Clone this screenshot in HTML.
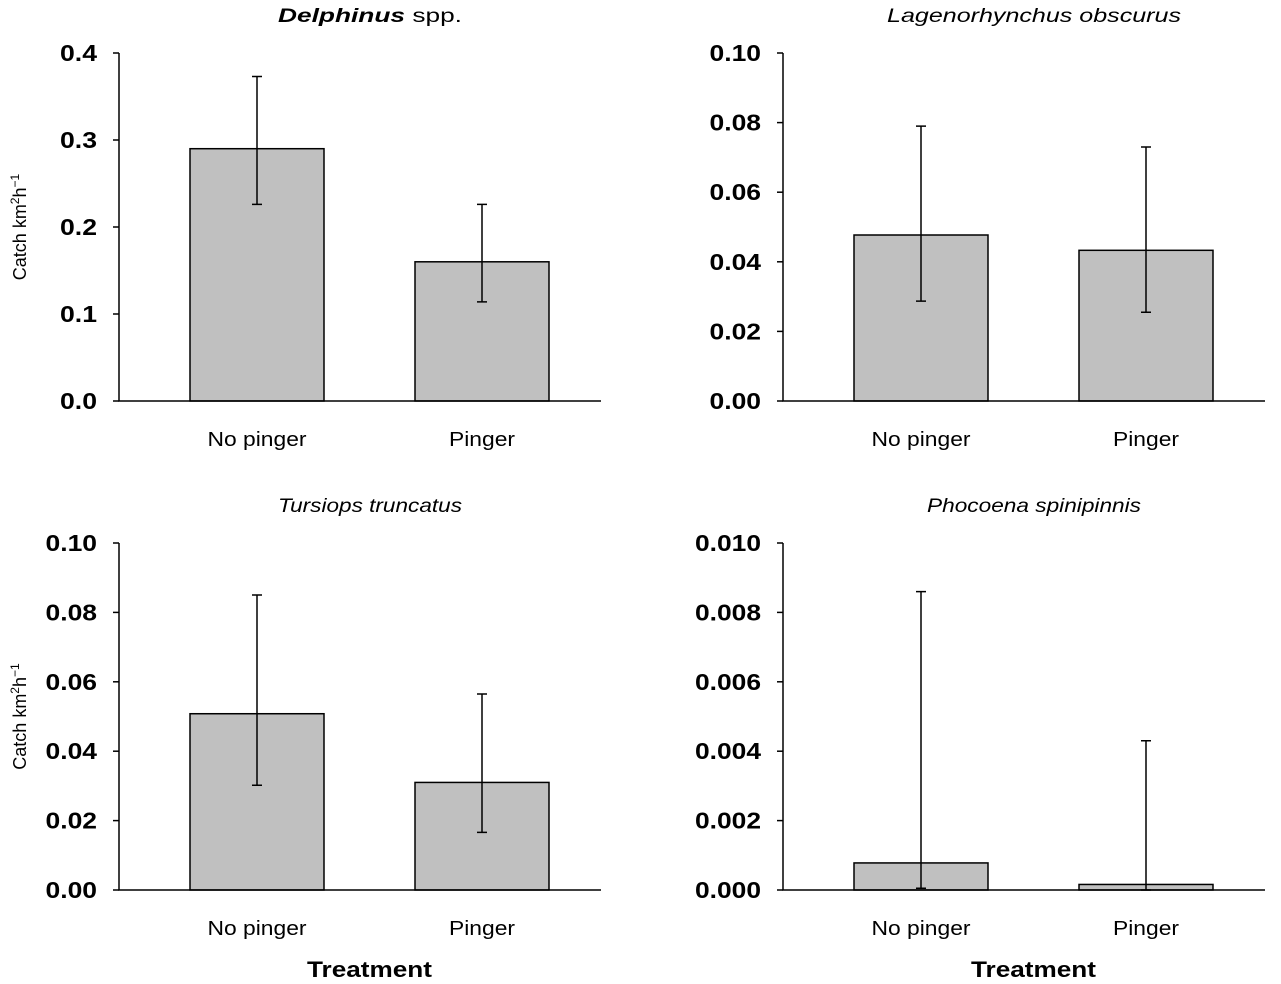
<!DOCTYPE html>
<html><head><meta charset="utf-8"><style>
body{margin:0;background:#fff}
svg text{font-family:"Liberation Sans",Arial,sans-serif;fill:#000}
</style></head><body>
<svg id="c" width="1281" height="979" xmlns="http://www.w3.org/2000/svg"></svg>
<script>
const categories=["No pinger","Pinger"];
const titles=["Delphinus spp.","Lagenorhynchus obscurus","Tursiops truncatus","Phocoena spinipinnis"];
const means=[[0.29,0.16],[0.0477,0.0433],[0.0508,0.031],[0.00078,0.00016]];
const upper=[[0.373,0.226],[0.079,0.073],[0.085,0.0565],[0.0086,0.0043]];
const lower=[[0.226,0.114],[0.0287,0.0255],[0.0302,0.0166],[0.00005,0.0]];
const yMax=[0.4,0.1,0.1,0.01];
const tickLabels=[["0.0","0.1","0.2","0.3","0.4"],["0.00","0.02","0.04","0.06","0.08","0.10"],["0.00","0.02","0.04","0.06","0.08","0.10"],["0.000","0.002","0.004","0.006","0.008","0.010"]];
const titleWidths=[184,294,184,214];
const NS="http://www.w3.org/2000/svg",svg=document.getElementById('c');
function mk(t,a,p){const e=document.createElementNS(NS,t);for(const k in a)e.setAttribute(k,a[k]);(p||svg).appendChild(e);return e;}
const panels=[{x0:119,y0:401,top:53},{x0:783,y0:401,top:53},{x0:119,y0:890,top:543},{x0:783,y0:890,top:543}];
panels.forEach((P,i)=>{
 const g=mk('g',{});
 
 
 const W=482,H=P.y0-P.top;
 const ys=v=>P.y0-v/yMax[i]*H;
 const xs=j=>P.x0+71+j*225;
 const bw=134;
 categories.forEach((c,j)=>{
  const b=mk('rect',{x:xs(j),y:ys(means[i][j]),width:bw,height:P.y0-ys(means[i][j]),fill:'#c0c0c0',stroke:'#000','stroke-width':1.5},g);
  
  
  const cx=xs(j)+bw/2;
  const e=mk('path',{d:`M${cx} ${ys(upper[i][j])}V${ys(lower[i][j])}M${cx-5} ${ys(upper[i][j])}h10M${cx-5} ${ys(lower[i][j])}h10`,stroke:'#000','stroke-width':1.5,fill:'none'},g);
  
  
  const t=mk('text',{x:cx,y:P.y0+45,'font-size':20,'text-anchor':'middle',textLength:c.length*11,lengthAdjust:'spacingAndGlyphs'},g);t.textContent=c;
  
  
 });
 const ax=mk('path',{d:`M${P.x0} ${P.top}V${P.y0}H${P.x0+W}`,stroke:'#000','stroke-width':1.5,fill:'none'},g);
 
 
 const tl=tickLabels[i],n=tl.length-1;
 tl.forEach((l,k)=>{
  const y=P.y0-k/n*H;
  mk('line',{x1:P.x0-6,x2:P.x0,y1:y,y2:y,stroke:'#000','stroke-width':1.5},g);
  const w=(l.length-1)*14.5+8;
  const t=mk('text',{x:P.x0-22-w,y:y+8,'font-size':23,'font-weight':'bold',textLength:w,lengthAdjust:'spacingAndGlyphs'},g);t.textContent=l;
  
  
 });
 const tw=titleWidths[i];
 const tt=mk('text',{x:P.x0+251-tw/2,y:P.top-31,'font-size':19,'font-style':'italic',textLength:tw,lengthAdjust:'spacingAndGlyphs'},g);
 if(i===0){tt.innerHTML='<tspan font-style="italic" font-weight="bold">Delphinus</tspan><tspan font-style="normal"> spp.</tspan>';}else tt.textContent=titles[i];
 
 
 if(i%2===0){
  const yt=mk('text',{transform:`translate(26 ${(P.top+P.y0)/2}) rotate(-90)`,'font-size':18,'text-anchor':'middle'},g);
  yt.innerHTML='Catch km<tspan dy="-7" font-size="12">2</tspan><tspan dy="7">h</tspan><tspan dy="-7" font-size="12">−1</tspan>';
  
  
 }
 if(i>=2){
  const xt=mk('text',{x:P.x0+188,y:977,'font-size':22,'font-weight':'bold',textLength:125,lengthAdjust:'spacingAndGlyphs'},g);xt.textContent='Treatment';
  
  
 }
});
</script>
</body></html>
